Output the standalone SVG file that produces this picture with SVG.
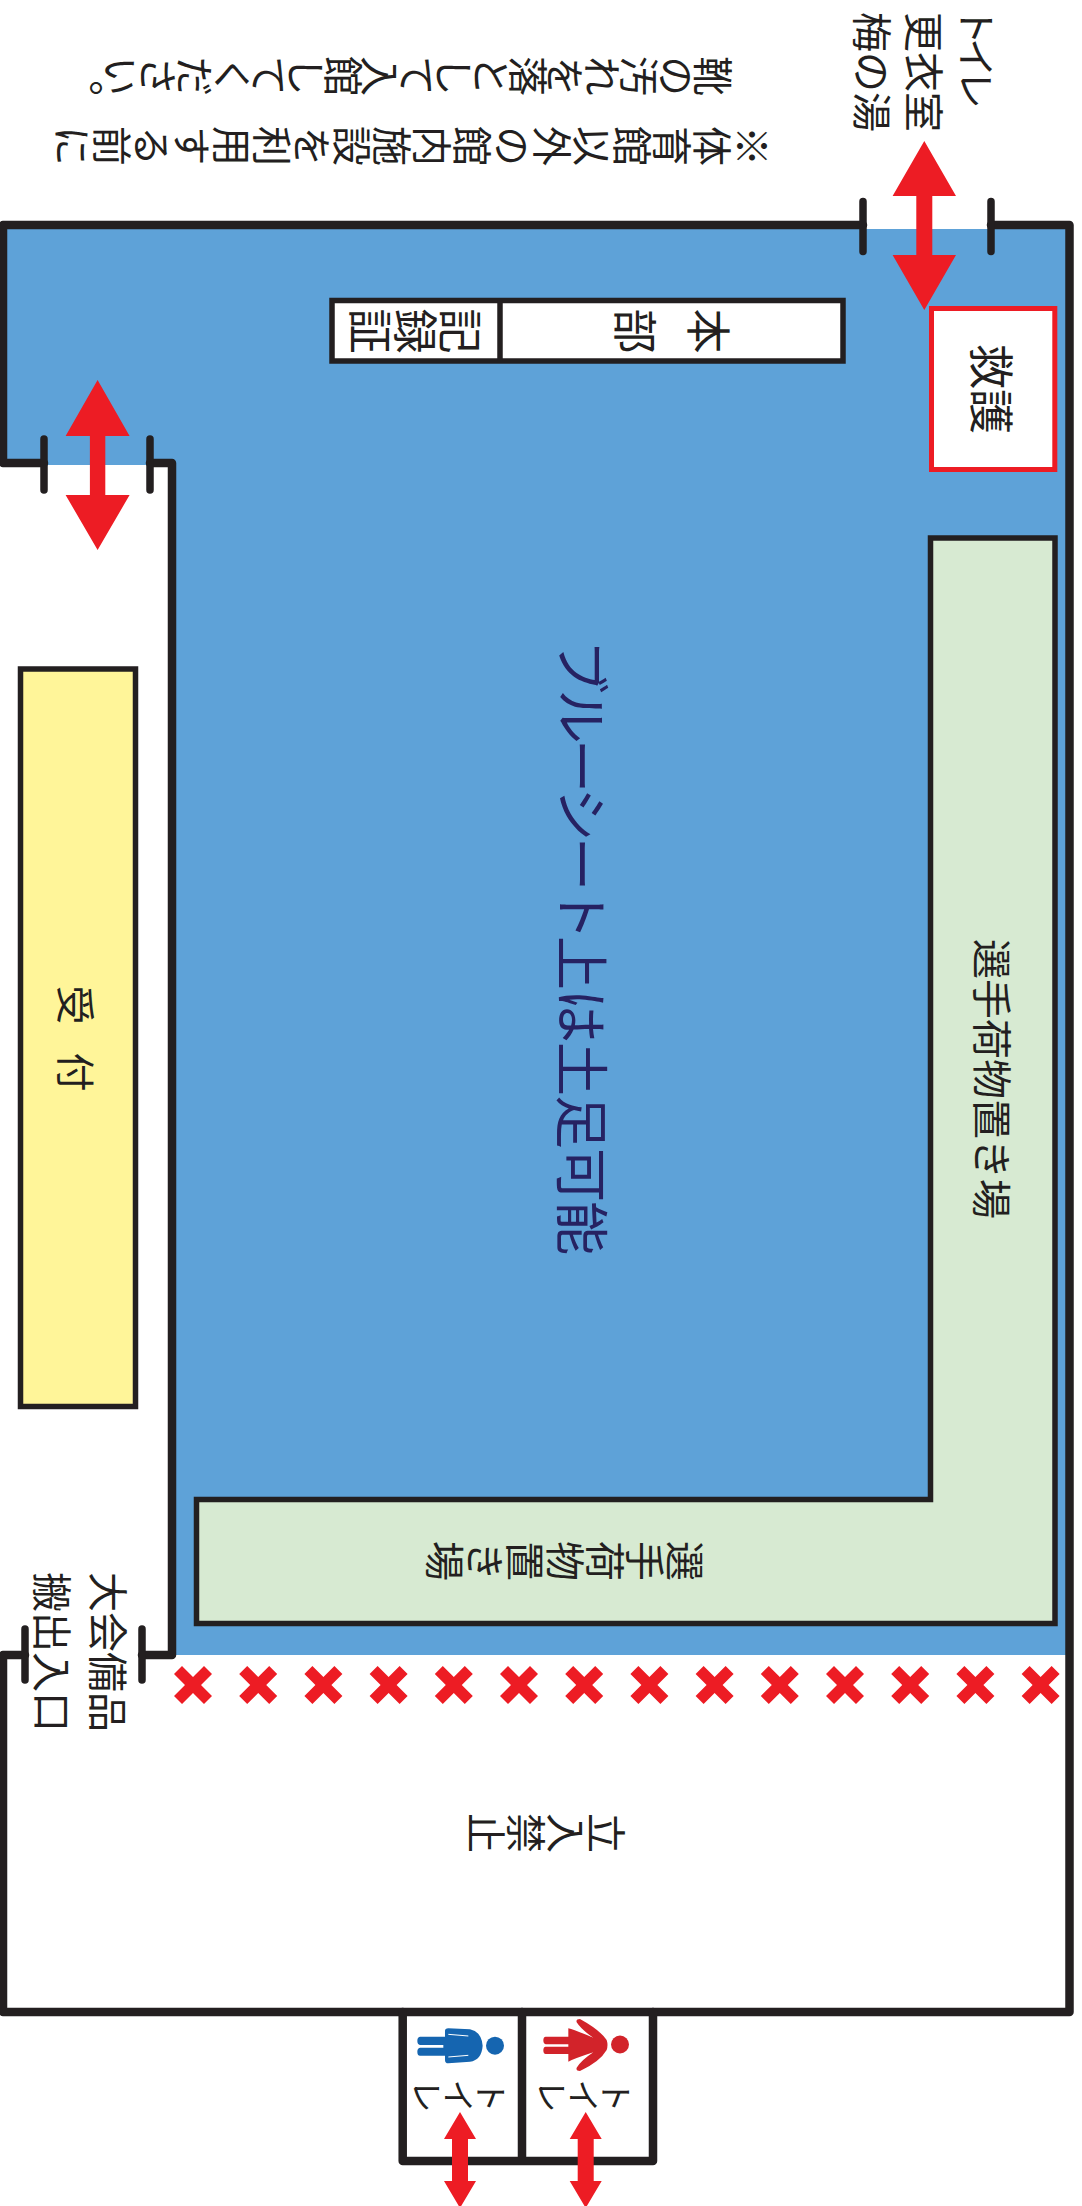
<svg xmlns="http://www.w3.org/2000/svg" width="1082" height="2206" viewBox="0 0 1082 2206" xml:lang="ja">
<style>
text{font-family:"Noto Sans CJK JP","Noto Sans",sans-serif;fill:#231f20;}
.c{text-anchor:middle;dominant-baseline:central;}
.s{text-anchor:start;dominant-baseline:central;}
.v{text-anchor:middle;writing-mode:vertical-rl;}
.wall{fill:none;stroke:#231f20;stroke-width:8.5;stroke-linejoin:round;stroke-linecap:round;}
.tick{fill:none;stroke:#231f20;stroke-width:7.5;stroke-linecap:round;}
.box{stroke:#231f20;stroke-width:5.5;}
.arrow{fill:#ed1c24;}
</style>
<defs>
<path id="x" d="M-19,-11 L-11,-19 L0,-8 L11,-19 L19,-11 L8,0 L19,11 L11,19 L0,8 L-11,19 L-19,11 L-8,0 Z" fill="#ed1c24"/>
</defs>
<rect width="1082" height="2206" fill="#fff"/>
<g id="floor"><polygon points="3,229 1069,229 1069,1655 172,1655 172,465 3,465" fill="#5ea2d8"/></g>
<g id="walls">
<path class="wall" d="M44,463 H3 V225 H863 M991,225 H1069.5 V2012 H3 V1655 H25 M142,1655 H172 V463 H150"/>
<path class="wall" d="M402.7,2012 V2161 H653 V2012 M522,2012 V2161"/>
<path class="tick" d="M863,201.5 V251.5 M991,201.5 V251.5 M44,439 V490 M150,439 V490 M25,1629 V1680 M142,1629 V1680"/>
</g>
<g id="honbu">
<rect class="box" x="332" y="300.5" width="511" height="60.5" fill="#fff"/>
<path class="box" d="M500,300 V361" fill="none"/>
<text class="v" font-size="45" transform="translate(708,331) rotate(90)">本</text>
<text class="v" font-size="45" transform="translate(635,331) rotate(90)">部</text>
<text class="v" font-size="45" transform="translate(415.5,331) rotate(90)">記録証</text>
</g>
<g id="kyugo">
<rect x="931.5" y="308.5" width="123.3" height="161" fill="#fff" stroke="#ed1c24" stroke-width="5"/>
<text class="c" font-size="45" transform="translate(993,389) rotate(90)">救護</text>
</g>
<g id="nimotsu">
<polygon class="box" points="930.5,538 1055,538 1055,1623.5 196.5,1623.5 196.5,1499.5 930.5,1499.5" fill="#d7ead2"/>
<text class="c" font-size="40" transform="translate(993.5,1079) rotate(90)">選手荷物置き場</text>
<text class="v" font-size="40" transform="translate(565,1561) rotate(90)">選手荷物置き場</text>
</g>
<g id="uketsuke">
<rect class="box" x="20.5" y="669" width="115" height="737.5" fill="#fff599"/>
<text class="c" font-size="39" transform="translate(78,1005) rotate(90)">受</text>
<text class="c" font-size="39" transform="translate(78,1072) rotate(90)">付</text>
</g>
<g id="bluesheet"><text class="s" font-size="54" style="fill:#262262" transform="translate(585,640) rotate(90)"><tspan letter-spacing="-4.5">ブルーシート</tspan><tspan letter-spacing="-1">上は土足可能</tspan></text></g>
<g id="notice">
<text class="v" font-size="40" transform="translate(412,146) rotate(90)">※体育館以外の館内施設を利用する前に</text>
<text class="v" font-size="40" letter-spacing="-3" transform="translate(400,76) rotate(90)">靴の汚れを落として入館してください。</text>
</g>
<g id="outer-labels">
<text class="s" font-size="39" letter-spacing="-7" transform="translate(979,6) rotate(90)">トイレ</text>
<text class="s" font-size="40" transform="translate(926,12) rotate(90)">更衣室</text>
<text class="s" font-size="40" transform="translate(874,12) rotate(90)">梅の湯</text>
<text class="c" font-size="40" transform="translate(110,1652) rotate(90)">大会備品</text>
<text class="c" font-size="40" transform="translate(54,1652) rotate(90)">搬出入口</text>
</g>
<g id="kinshi"><text class="v" font-size="40" transform="translate(546,1833) rotate(90)">立入禁止</text></g>
<g id="x-marks">
<use href="#x" x="193" y="1685"/><use href="#x" x="258.2" y="1685"/><use href="#x" x="323.4" y="1685"/><use href="#x" x="388.6" y="1685"/><use href="#x" x="453.8" y="1685"/><use href="#x" x="519" y="1685"/><use href="#x" x="584.2" y="1685"/><use href="#x" x="649.4" y="1685"/><use href="#x" x="714.6" y="1685"/><use href="#x" x="779.8" y="1685"/><use href="#x" x="845" y="1685"/><use href="#x" x="910.2" y="1685"/><use href="#x" x="975.4" y="1685"/><use href="#x" x="1040.6" y="1685"/>
</g>
<g id="toilet-men">
<path transform="translate(400,2015) scale(.3333)" fill="#1565b0" d="M60,65 H135 V48 Q135,40 145,40 L210,43 Q245,50 248,92 Q245,135 210,140 L145,145 Q135,145 135,135 V122 H60 Q52,122 52,110 Q52,100 60,98 H130 V90 H60 Q52,88 52,78 Q52,66 60,65 Z"/>
<path transform="translate(400,2015) scale(.3333)" fill="none" stroke="#fff" stroke-width="3" d="M145,58 L205,63 M145,126 L205,121"/>
<circle cx="495" cy="2045.7" r="9" fill="#1565b0"/>
<text class="v" font-size="34" letter-spacing="-2" transform="translate(460,2096) rotate(90)">トイレ</text>
</g>
<g id="toilet-women">
<path transform="translate(525,2015) scale(.3333)" fill="#d2232a" d="M62,65 H130 V40 Q150,45 205,68 Q170,45 155,22 Q152,12 165,12 Q225,45 245,75 Q250,90 245,105 Q225,140 165,168 Q152,168 155,158 Q170,135 205,112 Q150,130 130,140 V117 H62 Q55,117 55,106 Q55,96 62,95 H130 V88 H62 Q55,86 55,76 Q55,66 62,65 Z"/>
<circle cx="620" cy="2044.5" r="9" fill="#d2232a"/>
<text class="v" font-size="34" letter-spacing="-2" transform="translate(585,2096) rotate(90)">トイレ</text>
</g>
<g id="connectors">
<polygon class="arrow" points="924.3,141 956,196 932.3,196 932.3,255 956,255 924.3,310 892.6,255 916.3,255 916.3,196 892.6,196"/>
<polygon class="arrow" points="97.6,380 129.6,436 105.3,436 105.3,495 129.6,495 97.6,550 65.6,495 89.9,495 89.9,436 65.6,436"/>
<polygon class="arrow" points="460,2112 476,2139 468,2139 468,2181 476,2181 460,2208 444,2181 452,2181 452,2139 444,2139"/>
<polygon class="arrow" points="585.7,2112 601.7,2139 593.7,2139 593.7,2181 601.7,2181 585.7,2208 569.7,2181 577.7,2181 577.7,2139 569.7,2139"/>
</g>
</svg>
